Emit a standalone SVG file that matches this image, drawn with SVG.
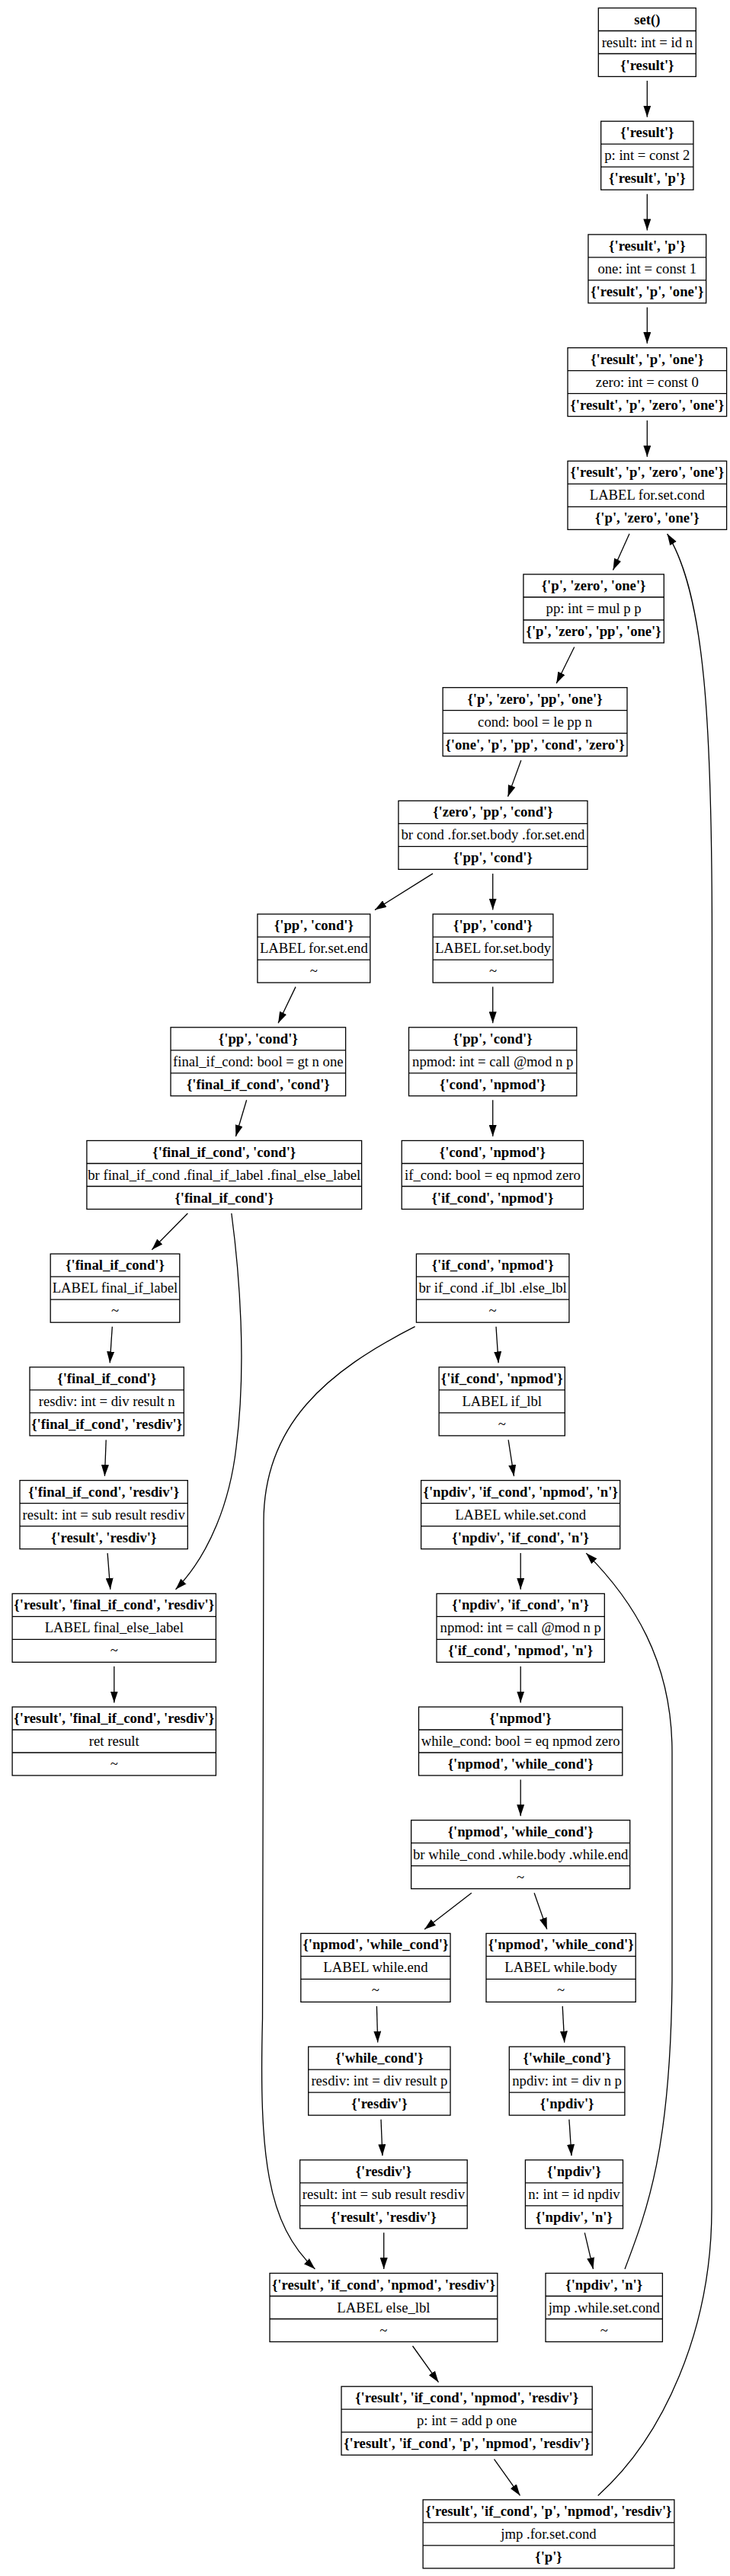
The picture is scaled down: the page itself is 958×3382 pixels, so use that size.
<svg xmlns="http://www.w3.org/2000/svg" width="958" height="3382" viewBox="0 0 958 3382">
<defs>
<style>
text{font-family:"Liberation Serif","Times New Roman",serif;font-size:18.67px;text-anchor:middle;fill:#000}
.b{font-weight:bold}
.nd rect{fill:#fff;stroke:#000;stroke-width:1.3}
.nd path{fill:none;stroke:#000;stroke-width:1.3}
#edges path{fill:none;stroke:#000;stroke-width:1.3;marker-end:url(#ah)}
</style>
<marker id="ah" markerUnits="userSpaceOnUse" markerWidth="15" markerHeight="10" viewBox="0 0 15 10" refX="15" refY="5" orient="auto"><path d="M0,0L15,5L0,10z" fill="#000"/></marker>
</defs>
<rect width="958" height="3382" fill="#fff"/>
<g id="edges">
<path d="M849.3,106L849.3,153.7"/>
<path d="M849.3,254.7L849.3,302.4"/>
<path d="M849.3,403.4L849.3,451.1"/>
<path d="M849.3,552.1L849.3,599.8"/>
<path d="M826,700.8L804.5,748.5"/>
<path d="M753.7,849.5L730.2,897.2"/>
<path d="M683.8,998.2L666.5,1045.9"/>
<path d="M568,1146.9L492,1194.6"/>
<path d="M646.7,1146.9L646.7,1194.6"/>
<path d="M388,1295.6L365.1,1343.3"/>
<path d="M646.7,1295.6L646.7,1343.3"/>
<path d="M323.6,1444.3L309.4,1492"/>
<path d="M646.7,1444.3L646.7,1492"/>
<path d="M246.3,1593L199.3,1640.7"/>
<path d="M303.8,1593C314,1670 324,1790 310,1900C302,1970 276,2040 230.5,2086.8"/>
<path d="M147.3,1741.7L144.2,1789.4"/>
<path d="M139.2,1890.4L137.4,1938.1"/>
<path d="M141.1,2039.1L144.8,2086.8"/>
<path d="M149.8,2187.8L149.8,2235.5"/>
<path d="M651,1741.7L654.1,1789.4"/>
<path d="M544.6,1741.7C430,1800 345,1870 346,2000L344.5,2650C340,2830 350,2920 413.4,2979"/>
<path d="M667.1,1890.4L674.5,1938.1"/>
<path d="M683.2,2039.1L683.2,2086.8"/>
<path d="M683.2,2187.8L683.2,2235.5"/>
<path d="M683.2,2336.5L683.2,2384.2"/>
<path d="M618.8,2485.2L557,2532.9"/>
<path d="M701.1,2485.2L717.8,2532.9"/>
<path d="M494.4,2633.9L495.7,2681.6"/>
<path d="M738.2,2633.9L740.7,2681.6"/>
<path d="M500,2782.6L501.9,2830.3"/>
<path d="M746.9,2782.6L750,2830.3"/>
<path d="M503.7,2931.3L503.7,2979"/>
<path d="M767.3,2931.3L778.5,2979"/>
<path d="M820,2979C850,2900 880,2820 882,2600L882,2300C882,2180 830,2100 769.2,2039.1"/>
<path d="M541.5,3080L575.5,3127.7"/>
<path d="M648.5,3228.7L682.5,3276.4"/>
<path d="M784.7,3276.4C870,3200 934,3060 934,2900L934.4,1250C935,950 925,780 875.6,700.8"/>
</g>
<g id="n1" class="nd" transform="translate(849.3,10.5)"><rect x="-64" y="0" width="128" height="90"/><path d="M-64,30h128M-64,60h128"/><text y="21" class="b">set()</text><text y="51">result: int = id n</text><text y="81" class="b">{'result'}</text></g>
<g id="n2" class="nd" transform="translate(849.3,159.2)"><rect x="-60.65" y="0" width="121.3" height="90"/><path d="M-60.65,30h121.3M-60.65,60h121.3"/><text y="21" class="b">{'result'}</text><text y="51">p: int = const 2</text><text y="81" class="b">{'result', 'p'}</text></g>
<g id="n3" class="nd" transform="translate(849.3,307.9)"><rect x="-77.35" y="0" width="154.7" height="90"/><path d="M-77.35,30h154.7M-77.35,60h154.7"/><text y="21" class="b">{'result', 'p'}</text><text y="51">one: int = const 1</text><text y="81" class="b">{'result', 'p', 'one'}</text></g>
<g id="n4" class="nd" transform="translate(849.3,456.6)"><rect x="-104.3" y="0" width="208.6" height="90"/><path d="M-104.3,30h208.6M-104.3,60h208.6"/><text y="21" class="b">{'result', 'p', 'one'}</text><text y="51">zero: int = const 0</text><text y="81" class="b">{'result', 'p', 'zero', 'one'}</text></g>
<g id="n5" class="nd" transform="translate(849.3,605.3)"><rect x="-104.3" y="0" width="208.6" height="90"/><path d="M-104.3,30h208.6M-104.3,60h208.6"/><text y="21" class="b">{'result', 'p', 'zero', 'one'}</text><text y="51">LABEL for.set.cond</text><text y="81" class="b">{'p', 'zero', 'one'}</text></g>
<g id="n6" class="nd" transform="translate(779.1,754)"><rect x="-92.2" y="0" width="184.4" height="90"/><path d="M-92.2,30h184.4M-92.2,60h184.4"/><text y="21" class="b">{'p', 'zero', 'one'}</text><text y="51">pp: int = mul p p</text><text y="81" class="b">{'p', 'zero', 'pp', 'one'}</text></g>
<g id="n7" class="nd" transform="translate(702.05,902.7)"><rect x="-120.95" y="0" width="241.9" height="90"/><path d="M-120.95,30h241.9M-120.95,60h241.9"/><text y="21" class="b">{'p', 'zero', 'pp', 'one'}</text><text y="51">cond: bool = le pp n</text><text y="81" class="b">{'one', 'p', 'pp', 'cond', 'zero'}</text></g>
<g id="n8" class="nd" transform="translate(646.95,1051.4)"><rect x="-124.05" y="0" width="248.1" height="90"/><path d="M-124.05,30h248.1M-124.05,60h248.1"/><text y="21" class="b">{'zero', 'pp', 'cond'}</text><text y="51">br cond .for.set.body .for.set.end</text><text y="81" class="b">{'pp', 'cond'}</text></g>
<g id="n9l" class="nd" transform="translate(411.85,1200.1)"><rect x="-73.95" y="0" width="147.9" height="90"/><path d="M-73.95,30h147.9M-73.95,60h147.9"/><text y="21" class="b">{'pp', 'cond'}</text><text y="51">LABEL for.set.end</text><text y="81">~</text></g>
<g id="n9r" class="nd" transform="translate(647,1200.1)"><rect x="-78.9" y="0" width="157.8" height="90"/><path d="M-78.9,30h157.8M-78.9,60h157.8"/><text y="21" class="b">{'pp', 'cond'}</text><text y="51">LABEL for.set.body</text><text y="81">~</text></g>
<g id="n10l" class="nd" transform="translate(338.8,1348.8)"><rect x="-114.8" y="0" width="229.6" height="90"/><path d="M-114.8,30h229.6M-114.8,60h229.6"/><text y="21" class="b">{'pp', 'cond'}</text><text y="51">final_if_cond: bool = gt n one</text><text y="81" class="b">{'final_if_cond', 'cond'}</text></g>
<g id="n10r" class="nd" transform="translate(646.65,1348.8)"><rect x="-110.15" y="0" width="220.3" height="90"/><path d="M-110.15,30h220.3M-110.15,60h220.3"/><text y="21" class="b">{'pp', 'cond'}</text><text y="51">npmod: int = call @mod n p</text><text y="81" class="b">{'cond', 'npmod'}</text></g>
<g id="n11l" class="nd" transform="translate(294.25,1497.5)"><rect x="-180.35" y="0" width="360.7" height="90"/><path d="M-180.35,30h360.7M-180.35,60h360.7"/><text y="21" class="b">{'final_if_cond', 'cond'}</text><text y="51">br final_if_cond .final_if_label .final_else_label</text><text y="81" class="b">{'final_if_cond'}</text></g>
<g id="n11r" class="nd" transform="translate(646.35,1497.5)"><rect x="-119.15" y="0" width="238.3" height="90"/><path d="M-119.15,30h238.3M-119.15,60h238.3"/><text y="21" class="b">{'cond', 'npmod'}</text><text y="51">if_cond: bool = eq npmod zero</text><text y="81" class="b">{'if_cond', 'npmod'}</text></g>
<g id="n12l" class="nd" transform="translate(151,1646.2)"><rect x="-84.8" y="0" width="169.6" height="90"/><path d="M-84.8,30h169.6M-84.8,60h169.6"/><text y="21" class="b">{'final_if_cond'}</text><text y="51">LABEL final_if_label</text><text y="81">~</text></g>
<g id="n12r" class="nd" transform="translate(646.65,1646.2)"><rect x="-100.25" y="0" width="200.5" height="90"/><path d="M-100.25,30h200.5M-100.25,60h200.5"/><text y="21" class="b">{'if_cond', 'npmod'}</text><text y="51">br if_cond .if_lbl .else_lbl</text><text y="81">~</text></g>
<g id="n13l" class="nd" transform="translate(140.15,1794.9)"><rect x="-101.15" y="0" width="202.3" height="90"/><path d="M-101.15,30h202.3M-101.15,60h202.3"/><text y="21" class="b">{'final_if_cond'}</text><text y="51">resdiv: int = div result n</text><text y="81" class="b">{'final_if_cond', 'resdiv'}</text></g>
<g id="n13r" class="nd" transform="translate(658.7,1794.9)"><rect x="-82.6" y="0" width="165.2" height="90"/><path d="M-82.6,30h165.2M-82.6,60h165.2"/><text y="21" class="b">{'if_cond', 'npmod'}</text><text y="51">LABEL if_lbl</text><text y="81">~</text></g>
<g id="n14l" class="nd" transform="translate(136.15,1943.6)"><rect x="-110.15" y="0" width="220.3" height="90"/><path d="M-110.15,30h220.3M-110.15,60h220.3"/><text y="21" class="b">{'final_if_cond', 'resdiv'}</text><text y="51">result: int = sub result resdiv</text><text y="81" class="b">{'result', 'resdiv'}</text></g>
<g id="n14r" class="nd" transform="translate(683.15,1943.6)"><rect x="-130.55" y="0" width="261.1" height="90"/><path d="M-130.55,30h261.1M-130.55,60h261.1"/><text y="21" class="b">{'npdiv', 'if_cond', 'npmod', 'n'}</text><text y="51">LABEL while.set.cond</text><text y="81" class="b">{'npdiv', 'if_cond', 'n'}</text></g>
<g id="n15l" class="nd" transform="translate(149.75,2092.3)"><rect x="-133.65" y="0" width="267.3" height="90"/><path d="M-133.65,30h267.3M-133.65,60h267.3"/><text y="21" class="b">{'result', 'final_if_cond', 'resdiv'}</text><text y="51">LABEL final_else_label</text><text y="81">~</text></g>
<g id="n15r" class="nd" transform="translate(683.15,2092.3)"><rect x="-110.15" y="0" width="220.3" height="90"/><path d="M-110.15,30h220.3M-110.15,60h220.3"/><text y="21" class="b">{'npdiv', 'if_cond', 'n'}</text><text y="51">npmod: int = call @mod n p</text><text y="81" class="b">{'if_cond', 'npmod', 'n'}</text></g>
<g id="n16l" class="nd" transform="translate(149.75,2241)"><rect x="-133.65" y="0" width="267.3" height="90"/><path d="M-133.65,30h267.3M-133.65,60h267.3"/><text y="21" class="b">{'result', 'final_if_cond', 'resdiv'}</text><text y="51">ret result</text><text y="81">~</text></g>
<g id="n16r" class="nd" transform="translate(683.15,2241)"><rect x="-133.65" y="0" width="267.3" height="90"/><path d="M-133.65,30h267.3M-133.65,60h267.3"/><text y="21" class="b">{'npmod'}</text><text y="51">while_cond: bool = eq npmod zero</text><text y="81" class="b">{'npmod', 'while_cond'}</text></g>
<g id="n17" class="nd" transform="translate(683.15,2389.7)"><rect x="-143.55" y="0" width="287.1" height="90"/><path d="M-143.55,30h287.1M-143.55,60h287.1"/><text y="21" class="b">{'npmod', 'while_cond'}</text><text y="51">br while_cond .while.body .while.end</text><text y="81">~</text></g>
<g id="n18l" class="nd" transform="translate(492.9,2538.4)"><rect x="-98.1" y="0" width="196.2" height="90"/><path d="M-98.1,30h196.2M-98.1,60h196.2"/><text y="21" class="b">{'npmod', 'while_cond'}</text><text y="51">LABEL while.end</text><text y="81">~</text></g>
<g id="n18r" class="nd" transform="translate(736.1,2538.4)"><rect x="-98.1" y="0" width="196.2" height="90"/><path d="M-98.1,30h196.2M-98.1,60h196.2"/><text y="21" class="b">{'npmod', 'while_cond'}</text><text y="51">LABEL while.body</text><text y="81">~</text></g>
<g id="n19l" class="nd" transform="translate(497.85,2687.1)"><rect x="-93.15" y="0" width="186.3" height="90"/><path d="M-93.15,30h186.3M-93.15,60h186.3"/><text y="21" class="b">{'while_cond'}</text><text y="51">resdiv: int = div result p</text><text y="81" class="b">{'resdiv'}</text></g>
<g id="n19r" class="nd" transform="translate(744.1,2687.1)"><rect x="-75.8" y="0" width="151.6" height="90"/><path d="M-75.8,30h151.6M-75.8,60h151.6"/><text y="21" class="b">{'while_cond'}</text><text y="51">npdiv: int = div n p</text><text y="81" class="b">{'npdiv'}</text></g>
<g id="n20l" class="nd" transform="translate(503.4,2835.8)"><rect x="-109.8" y="0" width="219.6" height="90"/><path d="M-109.8,30h219.6M-109.8,60h219.6"/><text y="21" class="b">{'resdiv'}</text><text y="51">result: int = sub result resdiv</text><text y="81" class="b">{'result', 'resdiv'}</text></g>
<g id="n20r" class="nd" transform="translate(753.45,2835.8)"><rect x="-64.05" y="0" width="128.1" height="90"/><path d="M-64.05,30h128.1M-64.05,60h128.1"/><text y="21" class="b">{'npdiv'}</text><text y="51">n: int = id npdiv</text><text y="81" class="b">{'npdiv', 'n'}</text></g>
<g id="n21l" class="nd" transform="translate(503.4,2984.5)"><rect x="-149.4" y="0" width="298.8" height="90"/><path d="M-149.4,30h298.8M-149.4,60h298.8"/><text y="21" class="b">{'result', 'if_cond', 'npmod', 'resdiv'}</text><text y="51">LABEL else_lbl</text><text y="81">~</text></g>
<g id="n21r" class="nd" transform="translate(792.7,2984.5)"><rect x="-76.7" y="0" width="153.4" height="90"/><path d="M-76.7,30h153.4M-76.7,60h153.4"/><text y="21" class="b">{'npdiv', 'n'}</text><text y="51">jmp .while.set.cond</text><text y="81">~</text></g>
<g id="n22" class="nd" transform="translate(612.6,3133.2)"><rect x="-164.6" y="0" width="329.2" height="90"/><path d="M-164.6,30h329.2M-164.6,60h329.2"/><text y="21" class="b">{'result', 'if_cond', 'npmod', 'resdiv'}</text><text y="51">p: int = add p one</text><text y="81" class="b">{'result', 'if_cond', 'p', 'npmod', 'resdiv'}</text></g>
<g id="n23" class="nd" transform="translate(720,3281.9)"><rect x="-164.9" y="0" width="329.8" height="90"/><path d="M-164.9,30h329.8M-164.9,60h329.8"/><text y="21" class="b">{'result', 'if_cond', 'p', 'npmod', 'resdiv'}</text><text y="51">jmp .for.set.cond</text><text y="81" class="b">{'p'}</text></g>
</svg>
